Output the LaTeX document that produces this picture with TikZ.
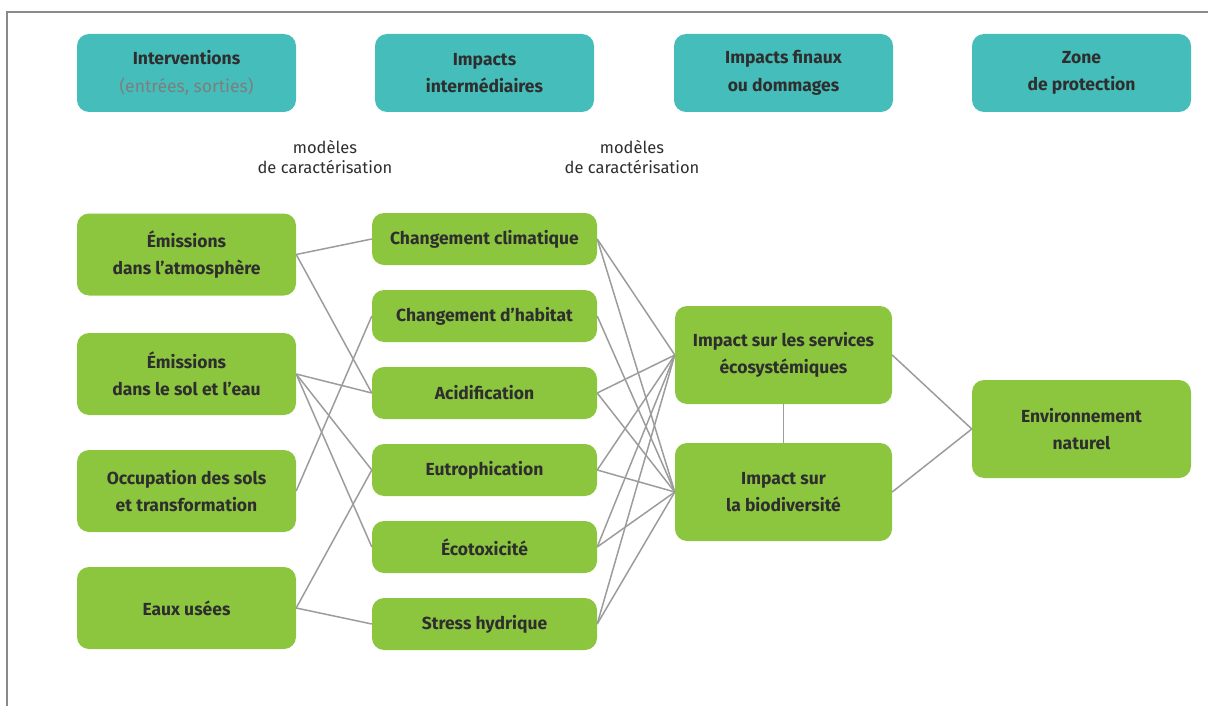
\documentclass[tikz,border=0pt]{standalone}
\usepackage{fontspec}
\setmainfont{Fira Sans}
\usepackage{xcolor}
\usepackage{tikz}
\usetikzlibrary{calc}
\definecolor{teal0}{HTML}{45BDBA}
\definecolor{green0}{HTML}{8CC63F}
\definecolor{ink}{HTML}{2E2E2E}
\definecolor{sub}{HTML}{7E7E7E}
\definecolor{wire}{HTML}{9C9C9C}
\definecolor{frame0}{HTML}{8A8A8A}

\begin{document}
\begin{tikzpicture}[x=1pt,y=-1pt]
\tikzstyle{box}=[shape=rectangle,rounded corners=12pt,inner sep=0pt,align=center,text=ink,font=\fontsize{17.5}{27.5}\selectfont\bfseries]
\tikzstyle{hdr}=[box,fill=teal0,minimum width=219pt,minimum height=78pt]
\tikzstyle{inp}=[box,fill=green0,minimum width=219pt,minimum height=82pt]
\tikzstyle{mid}=[box,fill=green0,minimum width=225pt,minimum height=52pt]
\tikzstyle{fin}=[box,fill=green0,minimum width=217pt,minimum height=98pt]
\tikzstyle{note}=[align=center,text=ink,font=\fontsize{16.5}{20.5}\selectfont]
\tikzstyle{link}=[draw=wire,line width=1.5pt]

\useasboundingbox (0,0) rectangle (1208,706);
\draw[frame0,line width=1.2pt] (7,706) -- (7,12) -- (1208,12);
%
\node[hdr](h1) at (186.5,73){Interventions\\\textcolor{sub}{\mdseries(entrées, sorties)}};
\node[hdr](h2) at (484.5,73){Impacts\\intermédiaires};
\node[hdr](h3) at (783.5,73){Impacts finaux\\ou dommages};
\node[hdr](h4) at (1081.5,73){Zone\\de protection};
%
\node[note](mod1) at (325,157){modèles\\de caractérisation};
\node[note](mod2) at (632,157){modèles\\de caractérisation};
%
\node[inp](atm) at (186.5,254.5){Émissions\\dans l'atmosphère};
\node[inp](sol) at (186.5,374){Émissions\\dans le sol et l'eau};
\node[inp](occ) at (186.5,491){Occupation des sols\\et transformation};
\node[inp](eaux) at (186.5,608){Eaux usées};
%
\node[mid](clim) at (484.5,239){Changement climatique};
\node[mid](hab) at (484.5,316){Changement d'habitat};
\node[mid](acid) at (484.5,393){Acidification};
\node[mid](eutro) at (484.5,470){Eutrophication};
\node[mid](ecotox) at (484.5,547){Écotoxicité};
\node[mid](stress) at (484.5,624){Stress hydrique};
%
\node[fin](serv) at (783.5,355){Impact sur les services\\écosystémiques};
\node[fin](bio) at (783.5,492){Impact sur\\la biodiversité};
\node[fin,minimum width=219pt](env) at (1081.5,429){Environnement\\naturel};
%
\draw[link] (atm.east) -- (clim.west);
\draw[link] (atm.east) -- (acid.west);
\draw[link] (sol.east) -- (acid.west);
\draw[link] (sol.east) -- (eutro.west);
\draw[link] (sol.east) -- (ecotox.west);
\draw[link] (occ.east) -- (hab.west);
\draw[link] (eaux.east) -- (eutro.west);
\draw[link] (eaux.east) -- (stress.west);
%
\draw[link] (clim.east) -- (serv.west);
\draw[link] (clim.east) -- (bio.west);
\draw[link] (hab.east) -- (bio.west);
\draw[link] (acid.east) -- (serv.west);
\draw[link] (acid.east) -- (bio.west);
\draw[link] (eutro.east) -- (serv.west);
\draw[link] (eutro.east) -- (bio.west);
\draw[link] (ecotox.east) -- (serv.west);
\draw[link] (ecotox.east) -- (bio.west);
\draw[link] (stress.east) -- (serv.west);
\draw[link] (stress.east) -- (bio.west);
%
\draw[link] (serv.south) -- (bio.north);
\draw[link] (serv.east) -- (env.west);
\draw[link] (bio.east) -- (env.west);
\end{tikzpicture}
\end{document}
